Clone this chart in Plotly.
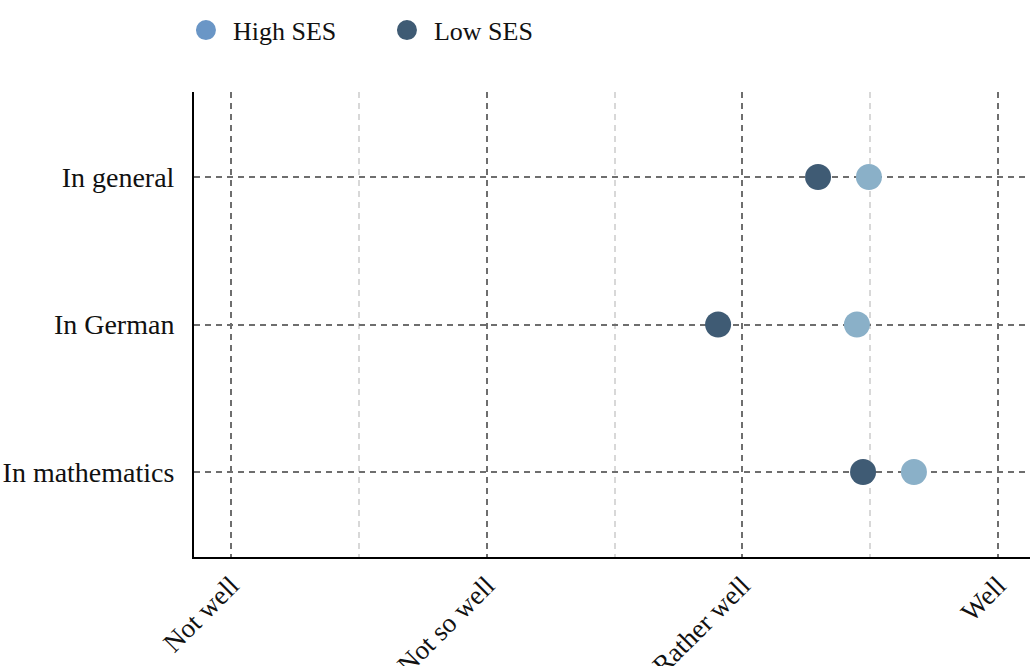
import plotly.graph_objects as go

categories = ["In general", "In German", "In mathematics"]
high_ses = [3.495, 3.448, 3.671]
low_ses = [3.296, 2.905, 3.472]
tick_vals = [1, 2, 3, 4]
tick_text = ["Not well", "Not so well", "Rather well", "Well"]

FONT = "Liberation Serif"
LOW_COL = "#3f5b74"
HIGH_PT = "#8ab0c8"
HIGH_LEG = "#6a96c6"

fig = go.Figure()
fig.add_trace(go.Scatter(x=low_ses, y=categories, mode="markers", showlegend=False,
                         marker=dict(size=26, color=LOW_COL), name="Low SES"))
fig.add_trace(go.Scatter(x=high_ses, y=categories, mode="markers", showlegend=False,
                         marker=dict(size=26, color=HIGH_PT), name="High SES"))
fig.add_trace(go.Scatter(x=[None], y=[None], mode="markers", name="High SES",
                         marker=dict(size=24, color=HIGH_LEG, line=dict(width=4, color=HIGH_LEG))))
fig.add_trace(go.Scatter(x=[None], y=[None], mode="markers", name="Low SES",
                         marker=dict(size=24, color=LOW_COL, line=dict(width=4, color=LOW_COL))))

fig.update_layout(
    width=1030, height=666,
    margin=dict(l=194, r=0, t=92, b=109, autoexpand=False),
    paper_bgcolor="white", plot_bgcolor="white",
    font=dict(family=FONT, size=28, color="#111"),
    legend=dict(orientation="h", x=-0.018, xanchor="left", y=1.133, yanchor="middle",
                font=dict(size=26), itemsizing="trace", itemwidth=44,
                entrywidth=142, entrywidthmode="pixels"),
)
fig.update_xaxes(
    range=[0.855, 4.125], tickvals=tick_vals, ticktext=tick_text, tickangle=-45,
    showline=True, linecolor="black", linewidth=2, zeroline=False, automargin=False,
    showgrid=True, gridcolor="#6e6e6e", gridwidth=1.5, griddash="6px,5px",
    minor=dict(tick0=1.5, dtick=1, showgrid=True, gridcolor="#d8d8d8", gridwidth=1.5, griddash="6px,5px"),
    ticks="", tickfont=dict(size=27),
)
fig.update_yaxes(
    type="category", categoryorder="array", categoryarray=categories[::-1],
    range=[-0.576, 2.576], automargin=False,
    showline=True, linecolor="black", linewidth=2, zeroline=False,
    showgrid=True, gridcolor="#6e6e6e", gridwidth=1.5, griddash="6px,5px",
    ticks="", ticklabelstandoff=12, tickfont=dict(size=28),
)

fig.write_html("out.html", config={"displayModeBar": False},
               post_script="document.body.style.margin='0';document.body.style.overflow='hidden';")
